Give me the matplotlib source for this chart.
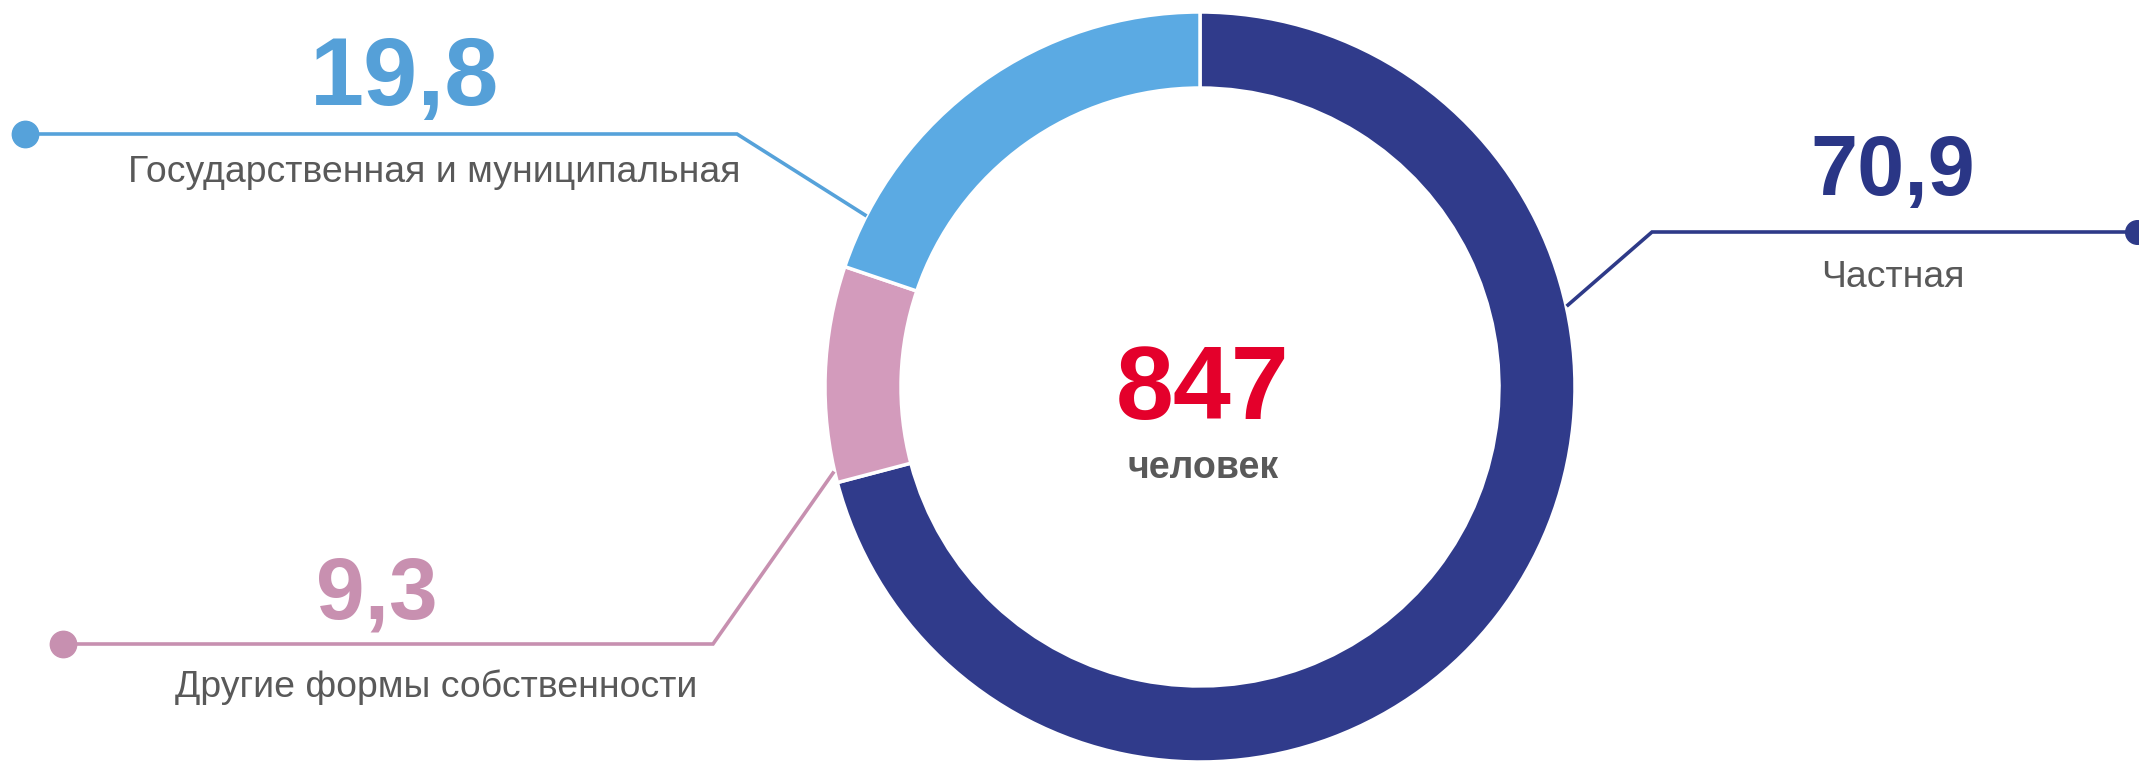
import matplotlib
matplotlib.use("Agg")
import matplotlib.pyplot as plt

# data
categories = ["Частная", "Другие формы собственности", "Государственная и муниципальная"]
shares = [70.9, 9.3, 19.8]
share_labels = ["70,9", "9,3", "19,8"]
total_value = "847"
total_unit = "человек"

wedge_colors = ["#303B8B", "#D39BBC", "#5BAAE3"]
text_colors = ["#2A3686", "#C890B0", "#55A0D8"]
line_colors = ["#2E3A88", "#C790B0", "#56A2DA"]
GREY = "#595959"

W, H = 2139, 761


def fy(y):
    # pixel rows from the top -> data y (axis goes up)
    return H - y


fig = plt.figure(figsize=(W / 100, H / 100), dpi=100)
ax = fig.add_axes([0, 0, 1, 1])

# donut
cx, cy, r_out, ring = 1200, 387, 375, 76
ax.pie(
    shares,
    colors=wedge_colors,
    startangle=90,
    counterclock=False,
    radius=r_out,
    center=(cx, fy(cy)),
    wedgeprops=dict(width=ring, edgecolor="white", linewidth=2.5),
)

ax.set_xlim(0, W)
ax.set_ylim(0, H)
ax.set_aspect("equal")
ax.axis("off")

# leader lines: start on ring -> elbow -> end with dot
leaders = [
    [(1568, 305), (1652, 232), (2137, 232)],
    [(833, 473), (713, 644), (63, 644)],
    [(865, 215), (737, 134), (25, 134)],
]
dot_size = [17, 19, 19]
for pts, col, ms in zip(leaders, line_colors, dot_size):
    xs = [p[0] for p in pts]
    ys = [fy(p[1]) for p in pts]
    ax.plot(xs, ys, color=col, lw=2.6, solid_joinstyle="miter", clip_on=False)
    ax.plot(xs[-1], ys[-1], "o", color=col, ms=ms, clip_on=False)

# value + caption positions (center x, baseline y)
value_pos = [(1893, 195, 61), (377, 618, 63), (405, 105, 70)]
label_pos = [(1893, 287), (436, 697), (434, 182)]

for i in range(len(categories)):
    x, y, fs = value_pos[i]
    ax.text(x, fy(y), share_labels[i], color=text_colors[i], fontsize=fs,
            fontweight="bold", family="Liberation Sans", ha="center", va="baseline")
    lx, ly = label_pos[i]
    ax.text(lx, fy(ly), categories[i], color=GREY, fontsize=26.9,
            family="Liberation Sans", ha="center", va="baseline")

# center text
ax.text(1203, fy(419), total_value, color="#E4002B", fontsize=75, fontweight="bold",
        family="Liberation Sans", ha="center", va="baseline")
ax.text(1203, fy(478), total_unit, color=GREY, fontsize=27, fontweight="bold",
        family="Liberation Sans", ha="center", va="baseline")

fig.savefig("out.png", dpi=100, facecolor="white")
